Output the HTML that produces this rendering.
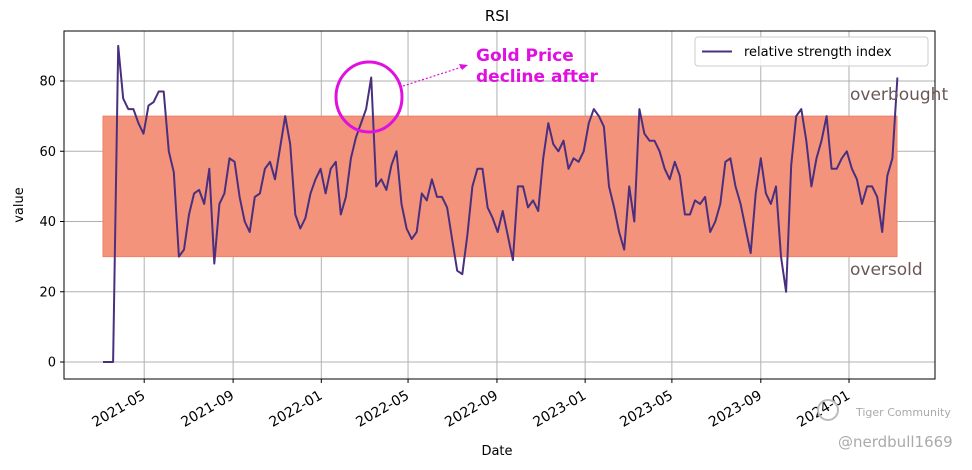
<!DOCTYPE html>
<html><head><meta charset="utf-8"><style>
body{margin:0;background:#fff;font-family:"Liberation Sans","DejaVu Sans",sans-serif}
svg text{font-family:"DejaVu Sans","Liberation Sans",sans-serif}
</style></head><body>
<svg id="chart" width="972" height="465" xmlns="http://www.w3.org/2000/svg">
<text x="497" y="21" font-size="15" text-anchor="middle">RSI</text>
<g id="grid"></g>
<rect x="103" y="116.1" width="794" height="140.5" fill="#f4937c" stroke="#ef7f66" stroke-width="1" id="band"/>
<g id="series"></g>
<rect x="64" y="31" width="871" height="348" fill="none" stroke="#000" stroke-width="1"/>
<g id="ticks"></g>
<text x="497" y="455" font-size="13" text-anchor="middle">Date</text>
<text x="23" y="205" font-size="13" text-anchor="middle" transform="rotate(-90 23 205)">value</text>
<g>
<rect x="695" y="37" width="233" height="29" rx="3" fill="#fff" fill-opacity="0.85" stroke="#ccc"/>
<line x1="702" y1="51.5" x2="732" y2="51.5" stroke="#4b2f7f" stroke-width="2"/>
<text x="744" y="56" font-size="13">relative strength index</text>
</g>
<text x="850" y="100" font-size="17" fill="#6b5757">overbought</text>
<text x="850" y="275" font-size="17" fill="#6b5757">oversold</text>
<ellipse cx="369" cy="97" rx="33" ry="35" fill="none" stroke="#e010e0" stroke-width="3"/>
<line x1="403" y1="86" x2="462" y2="67" stroke="#e010e0" stroke-width="1.2" stroke-dasharray="2,2"/>
<polygon points="468,65 459,64 462,70" fill="#e010e0"/>
<text x="476" y="61" font-size="17" font-weight="bold" fill="#e010e0" font-family="Liberation Sans">Gold Price</text>
<text x="476" y="82" font-size="17" font-weight="bold" fill="#e010e0" font-family="Liberation Sans">decline after</text>
<text x="856" y="416" font-size="11" fill="#aaa">Tiger Community</text>
<circle cx="828" cy="410" r="10" fill="none" stroke="#bbb" stroke-width="2"/>
<text x="838" y="447" font-size="15" fill="#aaa">@nerdbull1669</text>
</svg>
<script>
const rsiValues=[0,0,0,90,75,72,72,68,65,73,74,77,77,60,54,30,32,42,48,49,45,55,28,45,48,58,57,47,40,37,47,48,55,57,52,61,70,62,42,38,41,48,52,55,48,55,57,42,47,58,64,68,72,81,50,52,49,56,60,45,38,35,37,48,46,52,47,47,44,35,26,25,36,50,55,55,44,41,37,43,36,29,50,50,44,46,43,58,68,62,60,63,55,58,57,60,68,72,70,67,50,44,37,32,50,40,72,65,63,63,60,55,52,57,53,42,42,46,45,47,37,40,45,57,58,50,45,38,31,48,58,48,45,50,30,20,56,70,72,63,50,58,63,70,55,55,58,60,55,52,45,50,50,47,37,53,58,81];
const startDate='2021-03-05';
const yTicks=[0,20,40,60,80];
const xTickLabels=['2021-05','2021-09','2022-01','2022-05','2022-09','2023-01','2023-05','2023-09','2024-01'];
const band=[30,70];
const NS='http://www.w3.org/2000/svg';
const X0=103,PXW=5.06,Y0=362,PXV=3.5125;
const t0=new Date(startDate+'T00:00:00Z').getTime();
function xIdx(i){return X0+i*PXW;}
function xDate(s){return X0+(new Date(s+'-01T00:00:00Z').getTime()-t0)/(7*864e5)*PXW;}
function y(v){return Y0-v*PXV;}
const grid=document.getElementById('grid'),ticks=document.getElementById('ticks'),series=document.getElementById('series');
const bandEl=document.getElementById('band');
bandEl.setAttribute('y',y(band[1]));bandEl.setAttribute('height',y(band[0])-y(band[1]));
yTicks.forEach(v=>{
 const l=document.createElementNS(NS,'line');
 l.setAttribute('x1',64);l.setAttribute('x2',935);l.setAttribute('y1',y(v));l.setAttribute('y2',y(v));
 l.setAttribute('stroke','#b0b0b0');l.setAttribute('stroke-width','1');
 
 
 grid.appendChild(l);
 const tk=document.createElementNS(NS,'line');
 tk.setAttribute('x1',60);tk.setAttribute('x2',64);tk.setAttribute('y1',y(v));tk.setAttribute('y2',y(v));tk.setAttribute('stroke','#000');
 
 
 ticks.appendChild(tk);
 const t=document.createElementNS(NS,'text');
 t.setAttribute('x',56);t.setAttribute('y',y(v)+4.5);t.setAttribute('font-size','13');t.setAttribute('text-anchor','end');
 t.textContent=v;
 
 
 ticks.appendChild(t);
});
xTickLabels.forEach(s=>{
 const x=xDate(s);
 const l=document.createElementNS(NS,'line');
 l.setAttribute('x1',x);l.setAttribute('x2',x);l.setAttribute('y1',31);l.setAttribute('y2',379);
 l.setAttribute('stroke','#b0b0b0');l.setAttribute('stroke-width','1');
 
 
 grid.appendChild(l);
 const tk=document.createElementNS(NS,'line');
 tk.setAttribute('x1',x);tk.setAttribute('x2',x);tk.setAttribute('y1',379);tk.setAttribute('y2',383);tk.setAttribute('stroke','#000');
 
 
 ticks.appendChild(tk);
 const tx=x+2,ty=398;
 const t=document.createElementNS(NS,'text');
 t.setAttribute('x',tx);t.setAttribute('y',ty);t.setAttribute('font-size','14');t.setAttribute('text-anchor','end');
 t.setAttribute('transform','rotate(-30 '+tx+' '+ty+')');
 t.textContent=s;
 
 
 ticks.appendChild(t);
});
const p=document.createElementNS(NS,'polyline');
p.setAttribute('points',rsiValues.map((v,i)=>xIdx(i).toFixed(1)+','+y(v).toFixed(1)).join(' '));
p.setAttribute('fill','none');p.setAttribute('stroke','#4b2f7f');p.setAttribute('stroke-width','2');p.setAttribute('stroke-linejoin','round');


series.appendChild(p);
</script>
</body></html>
